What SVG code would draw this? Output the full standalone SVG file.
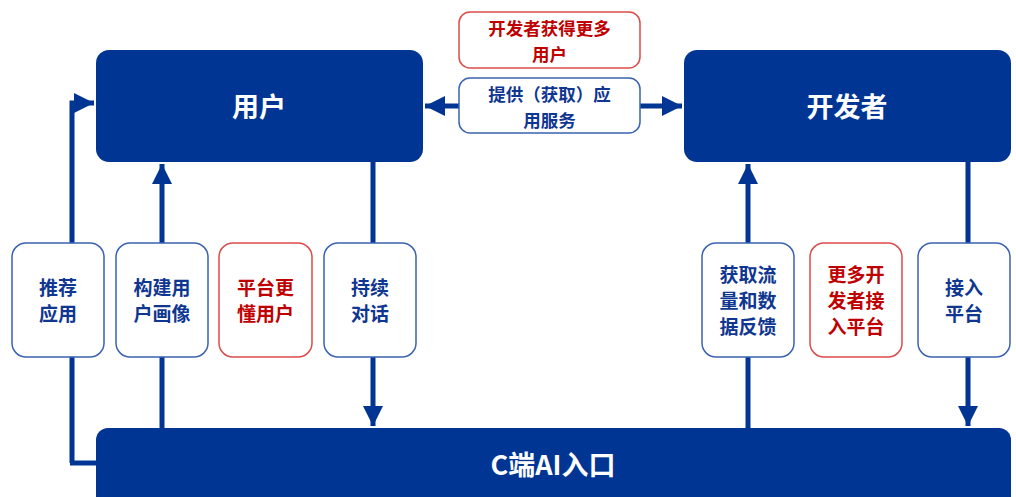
<svg xmlns="http://www.w3.org/2000/svg" width="1016" height="497" viewBox="0 0 1016 497">
<style>
.big{fill:#003594}
.bt{fill:#fff;font-family:"Noto Sans CJK SC","Noto Sans",sans-serif;font-weight:bold;font-size:27px;text-anchor:middle;dominant-baseline:central}
.sb{fill:#fff;stroke:#3a63b0;stroke-width:1.5}
.sr{fill:#fff;stroke:#dd4b4b;stroke-width:1.5}
.t{font-family:"Noto Sans CJK SC","Noto Sans",sans-serif;font-weight:bold;font-size:19px;text-anchor:middle;dominant-baseline:central}
.m{font-size:17.500px}
.tb{fill:#0f3690}
.tr{fill:#c00000}
.ln{stroke:#003594;stroke-width:5;fill:none}
</style>
<defs>
<marker id="ah" viewBox="0 0 10 10" refX="10" refY="5" markerWidth="4" markerHeight="4" orient="auto" markerUnits="strokeWidth">
<path d="M0,0 L10,5 L0,10 Z" fill="#003594"/>
</marker>
</defs>
<g id="connectors">
<path class="ln" d="M72,463 L72,103 L94,103" marker-end="url(#ah)"/>
<path class="ln" d="M162,428 L162,164" marker-end="url(#ah)"/>
<path class="ln" d="M373,162 L373,426" marker-end="url(#ah)"/>
<path class="ln" d="M748,428 L748,164" marker-end="url(#ah)"/>
<path class="ln" d="M968,162 L968,426" marker-end="url(#ah)"/>
<path class="ln" d="M459,106 L425,106" marker-end="url(#ah)"/>
<path class="ln" d="M640,106 L682,106" marker-end="url(#ah)"/>
<path class="ln" d="M70,463 L97,463"/>
</g>
<g id="user">
<rect class="big" x="96" y="50" width="327" height="112" rx="13"/>
<text class="bt" x="259" y="105">用户</text>
</g>
<g id="developer">
<rect class="big" x="684" y="50" width="327" height="112" rx="13"/>
<text class="bt" x="847" y="105">开发者</text>
</g>
<g id="entry">
<rect class="big" x="96" y="428" width="915" height="80" rx="12"/>
<text class="bt" x="553" y="463">C端AI入口</text>
</g>
<g id="dev-more-users">
<rect class="sr" x="459" y="12" width="181" height="56" rx="11"/>
<text class="t m tr" x="549.500" y="27">开发者获得更多</text>
<text class="t m tr" x="549.500" y="53">用户</text>
</g>
<g id="provide-service">
<rect class="sb" x="459" y="78" width="181" height="55" rx="11"/>
<text class="t m tb" x="549.500" y="93">提供（获取）应</text>
<text class="t m tb" x="549.500" y="119">用服务</text>
</g>
<g id="recommend">
<rect class="sb" x="12" y="243" width="92" height="114" rx="14"/>
<text class="t tb" x="58" y="286">推荐</text>
<text class="t tb" x="58" y="312">应用</text>
</g>
<g id="profile">
<rect class="sb" x="116" y="243" width="92" height="114" rx="14"/>
<text class="t tb" x="162" y="286">构建用</text>
<text class="t tb" x="162" y="312">户画像</text>
</g>
<g id="understand">
<rect class="sr" x="219" y="243" width="93" height="114" rx="14"/>
<text class="t tr" x="265.500" y="286">平台更</text>
<text class="t tr" x="265.500" y="312">懂用户</text>
</g>
<g id="dialog">
<rect class="sb" x="324" y="243" width="92" height="114" rx="14"/>
<text class="t tb" x="370" y="286">持续</text>
<text class="t tb" x="370" y="312">对话</text>
</g>
<g id="traffic">
<rect class="sb" x="702" y="243" width="92" height="114" rx="14"/>
<text class="t tb" x="748" y="273">获取流</text>
<text class="t tb" x="748" y="299">量和数</text>
<text class="t tb" x="748" y="325">据反馈</text>
</g>
<g id="more-devs">
<rect class="sr" x="810" y="243" width="92" height="114" rx="14"/>
<text class="t tr" x="856" y="273">更多开</text>
<text class="t tr" x="856" y="299">发者接</text>
<text class="t tr" x="856" y="325">入平台</text>
</g>
<g id="join">
<rect class="sb" x="918" y="243" width="92" height="114" rx="14"/>
<text class="t tb" x="964" y="286">接入</text>
<text class="t tb" x="964" y="312">平台</text>
</g>
</svg>
